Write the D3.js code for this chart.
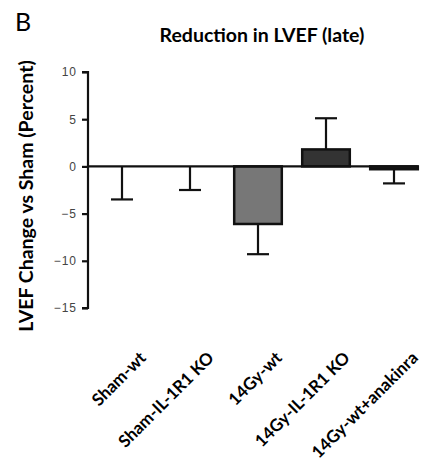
<!DOCTYPE html>
<html>
<head>
<meta charset="utf-8">
<script src="https://cdn.jsdelivr.net/npm/d3@7"></script>
<style>
  body { margin: 0; background: #fff; }
</style>
</head>
<body>
<script>
// data
const categories = ["Sham-wt", "Sham-IL-1R1 KO", "14Gy-wt", "14Gy-IL-1R1 KO", "14Gy-wt+anakinra"];
const means = [0, 0, -6.1, 1.8, -0.3];
const errors = [3.5, 2.5, 3.2, 3.3, 1.5];
const yTicks = [10, 5, 0, -5, -10, -15];

const fills = ["#ffffff", "#ffffff", "#777777", "#333333", "#222222"];

const W = 421, H = 464;

const svg = d3.select("body").append("svg")
              .attr("width", W)
              .attr("height", H);

let y = d3.scaleLinear()
          .domain([-15, 10])
          .range([308, 72]);

let x = d3.scaleBand()
          .domain(categories)
          .range([88, 428])
          .paddingInner(0.3)
          .paddingOuter(0.15);

// panel letter + title
svg.append("text")
   .attr("x", 15).attr("y", 31)
   .attr("font-family", "Lato, 'Open Sans', sans-serif")
   .attr("font-size", 25)
   .text("B");

svg.append("text")
   .attr("x", 262).attr("y", 42)
   .attr("text-anchor", "middle")
   .attr("font-family", "Lato, 'Open Sans', sans-serif")
   .attr("font-weight", "bold")
   .attr("font-size", 19.5)
   .text("Reduction in LVEF (late)");

// y axis
let yAxisGenerator = d3.axisLeft(y)
                       .tickValues(yTicks)
                       .tickSize(6)
                       .tickPadding(5);

let yAxis = svg.append("g")
               .attr("transform", "translate(88,0)")
               .call(yAxisGenerator);

yAxis.select(".domain")
     .attr("stroke", "#111")
     .attr("stroke-width", 2.2)
     .attr("d", `M-6,${y(10)}H0V${y(-15)}H-6`);
yAxis.selectAll(".tick line")
     .attr("stroke", "#111")
     .attr("stroke-width", 2.2);
yAxis.selectAll(".tick text")
     .attr("font-family", "'Liberation Sans', Arial, sans-serif")
     .attr("font-size", 12)
     .attr("fill", "#444")
     .attr("letter-spacing", 1);

svg.append("text")
   .attr("transform", `translate(33,${196}) rotate(-90)`)
   .attr("text-anchor", "middle")
   .attr("font-family", "Lato, 'Open Sans', sans-serif")
   .attr("font-weight", "bold")
   .attr("font-size", 19.5)
   .text("LVEF Change vs Sham (Percent)");

// bars
const g = svg.append("g");

g.selectAll("rect.bar")
 .data(categories)
 .join("rect")
 .attr("class", "bar")
 .attr("x", d => x(d))
 .attr("width", x.bandwidth())
 .attr("y", (d, i) => y(Math.max(0, means[i])))
 .attr("height", (d, i) => Math.abs(y(means[i]) - y(0)))
 .attr("fill", (d, i) => fills[i])
 .attr("stroke", "#111")
 .attr("stroke-width", 2.5);

// zero line
svg.append("line")
   .attr("x1", 88).attr("x2", x(categories[4]) + x.bandwidth())
   .attr("y1", y(0)).attr("y2", y(0))
   .attr("stroke", "#111")
   .attr("stroke-width", 2.2);

// error bars (one-sided, away from zero)
const capW = 22;
categories.forEach((c, i) => {
  const cx = x(c) + x.bandwidth() / 2;
  const dir = means[i] > 0 ? 1 : -1;
  const end = means[i] + dir * errors[i];
  g.append("line")
   .attr("x1", cx).attr("x2", cx)
   .attr("y1", y(means[i])).attr("y2", y(end))
   .attr("stroke", "#111").attr("stroke-width", 2.2);
  g.append("line")
   .attr("x1", cx - capW / 2).attr("x2", cx + capW / 2)
   .attr("y1", y(end)).attr("y2", y(end))
   .attr("stroke", "#111").attr("stroke-width", 2.2);
});

// category labels
svg.append("g")
   .selectAll("text")
   .data(categories)
   .join("text")
   .attr("transform", d => `translate(${x(d) + x.bandwidth() / 2 + 25},${359}) rotate(-45)`)
   .attr("text-anchor", "end")
   .attr("font-family", "Lato, 'Open Sans', sans-serif")
   .attr("font-weight", "bold")
   .attr("font-size", 17)
   .text(d => d);
</script>
</body>
</html>
